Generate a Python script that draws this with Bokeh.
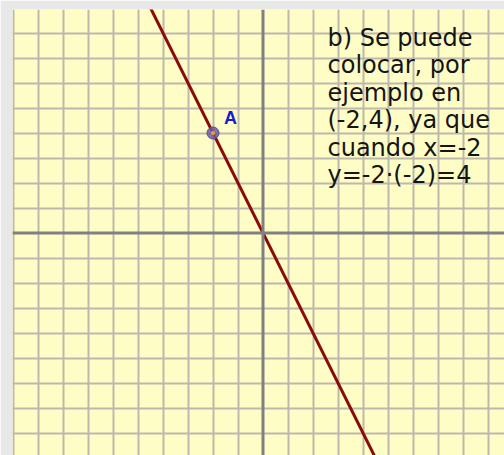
from bokeh.plotting import figure
from bokeh.models import Span, Grid, FixedTicker, ColumnDataSource
from bokeh.core.properties import value
from bokeh.embed import file_html
from bokeh.resources import INLINE

# Data
grid_x = [-10, -9, -8, -7, -6, -5, -4, -3, -2, -1, 1, 2, 3, 4, 5, 6, 7, 8, 9]
grid_y = [-8, -7, -6, -5, -4, -3, -2, -1, 1, 2, 3, 4, 5, 6, 7, 8]
line_x = [-5, 5]
line_y = [10, -10]
point_x = [-2]
point_y = [4]
point_label = ["A"]
note_lines = ["b) Se puede", "colocar, por", "ejemplo en", "(-2,4), ya que",
              "cuando x=-2", "y=-2·(-2)=4"]

W, H = 504, 455
left_b, top_b = 12, 9
unit = 25.0
fw, fh = W - left_b, H - top_b
x0 = -10.02
y1 = 8.94
xr = (x0, x0 + fw / unit)
yr = (y1 - fh / unit, y1)

p = figure(width=W, height=H, x_range=xr, y_range=yr,
           x_axis_location=None, y_axis_location=None,
           toolbar_location=None, output_backend="svg",
           min_border_left=left_b, min_border_top=top_b,
           min_border_right=0, min_border_bottom=0)
p.outline_line_color = None
p.background_fill_color = "#fffdc6"
p.border_fill_color = "#e8e8e8"
p.xgrid.visible = False
p.ygrid.visible = False

gx = Grid(dimension=0, ticker=FixedTicker(ticks=grid_x),
          grid_line_color="#bdb8ad", grid_line_width=2)
gy = Grid(dimension=1, ticker=FixedTicker(ticks=grid_y),
          grid_line_color="#bdb8ad", grid_line_width=2)
p.add_layout(gx)
p.add_layout(gy)

p.add_layout(Span(location=0, dimension="height", line_color="#808080", line_width=3))
p.add_layout(Span(location=0, dimension="width", line_color="#808080", line_width=3))

p.line(line_x, line_y, line_color="#8b0a0a", line_width=3)

src = ColumnDataSource(dict(x=point_x, y=point_y, t=point_label))
p.scatter("x", "y", source=src, size=12, fill_color="#6a5aa0", fill_alpha=0.85,
          line_color="#5a4a90", line_width=1)
p.scatter("x", "y", source=src, size=4, fill_color="#f0a020", line_color=None)
p.text("x", "y", text="t", source=src, x_offset=11, y_offset=-5,
       text_font=value("Liberation Sans"), text_font_style="bold",
       text_font_size="18px", text_color="#1a1ad0", text_baseline="bottom")

ns = ColumnDataSource(dict(x=[2.58] * len(note_lines),
                           y=[y1 - (37.0 - 9 + 27.5 * i) / unit for i in range(len(note_lines))],
                           t=note_lines))
p.text("x", "y", text="t", source=ns, text_font=value("DejaVu Sans"),
       text_font_size="24px", text_color="#141414", text_baseline="alphabetic")

open("out.html", "w").write(file_html(p, INLINE))
